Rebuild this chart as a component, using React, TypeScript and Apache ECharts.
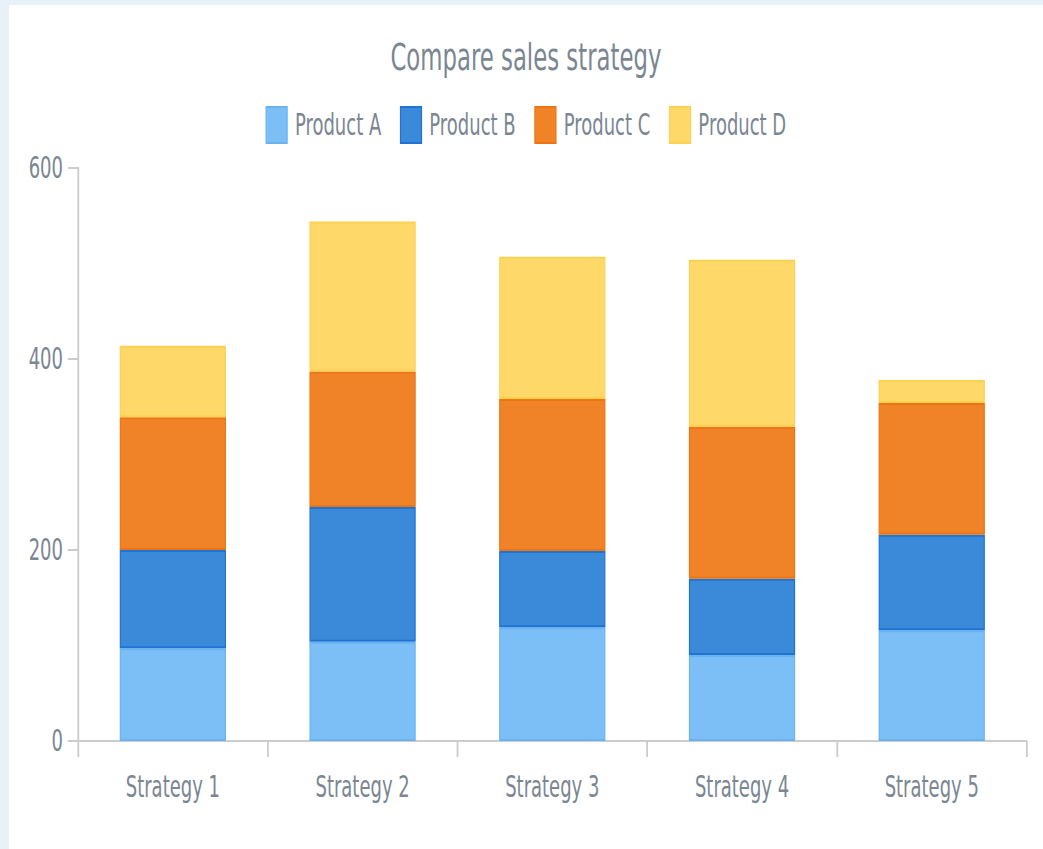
import React, { useEffect, useRef } from "react";
import * as echarts from "echarts";

const categories = ["Strategy 1", "Strategy 2", "Strategy 3", "Strategy 4", "Strategy 5"];
const productA = [97, 104, 119, 90, 116];
const productB = [103, 141, 80, 80, 100];
const productC = [139, 142, 159, 159, 138];
const productD = [75, 157, 149, 175, 24];
const seriesNames = ["Product A", "Product B", "Product C", "Product D"];
const yTicks = { min: 0, max: 600, interval: 200 };

const SX = 0.6;
const W = 1034;
const H = 844;
const textColor = "#7a8692";
const font = "DejaVu Sans";

export default function App() {
  const ref = useRef<HTMLDivElement>(null);
  useEffect(() => {
    if (!ref.current) return;
    const chart = echarts.init(ref.current, undefined, { renderer: "svg" });
    const fills = ["#7bbff6", "#3b89d9", "#f08327", "#fed96a"];
    const borders = ["#69b3f1", "#1f74d3", "#ee7412", "#fdd150"];
    const data = [productA, productB, productC, productD];
    chart.setOption({
      animation: false,
      title: {
        text: "Compare sales strategy",
        left: "center",
        top: 28,
        textStyle: { fontFamily: font, fontSize: 38, fontWeight: "normal", color: textColor },
      },
      legend: {
        top: 96,
        left: "center",
        itemWidth: 35,
        itemHeight: 36,
        itemGap: 31,
        icon: "rect",
        textStyle: { fontFamily: font, fontSize: 30, color: textColor, padding: [0, 0, 0, 8] },
        data: seriesNames,
      },
      grid: { left: 115, right: 27, top: 163, bottom: 108, containLabel: false },
      xAxis: {
        type: "category",
        data: categories,
        axisLine: { show: true, lineStyle: { color: "#cccccc", width: 2 } },
        axisTick: { show: true, length: 16, lineStyle: { color: "#cccccc", width: 3 } },
        axisLabel: { fontFamily: font, fontSize: 30, color: textColor, margin: 31 },
        splitLine: { show: false },
      },
      yAxis: {
        type: "value",
        min: yTicks.min,
        max: yTicks.max,
        interval: yTicks.interval,
        axisLine: { show: true, lineStyle: { color: "#cccccc", width: 3 } },
        axisTick: { show: true, length: 17, lineStyle: { color: "#cccccc", width: 2 } },
        axisLabel: { fontFamily: font, fontSize: 30, color: textColor, margin: 25 },
        splitLine: { show: false },
      },
      series: seriesNames.map((name, i) => ({
        name,
        type: "bar",
        stack: "total",
        barWidth: "56%",
        data: data[i],
        itemStyle: { color: fills[i], borderColor: borders[i], borderWidth: 2 },
        emphasis: { disabled: true },
      })),
    });
    return () => chart.dispose();
  }, []);

  return (
    <div style={{ position: "fixed", left: 0, top: 0, width: 1043, height: 849, background: "#e8f0f8", overflow: "hidden" }}>
      <div style={{ position: "absolute", left: 9, top: 5, width: W, height: H, background: "#ffffff", overflow: "hidden" }}>
        <div
          ref={ref}
          style={{ width: W / SX, height: H, transform: `scaleX(${SX})`, transformOrigin: "0 0" }}
        />
      </div>
    </div>
  );
}
